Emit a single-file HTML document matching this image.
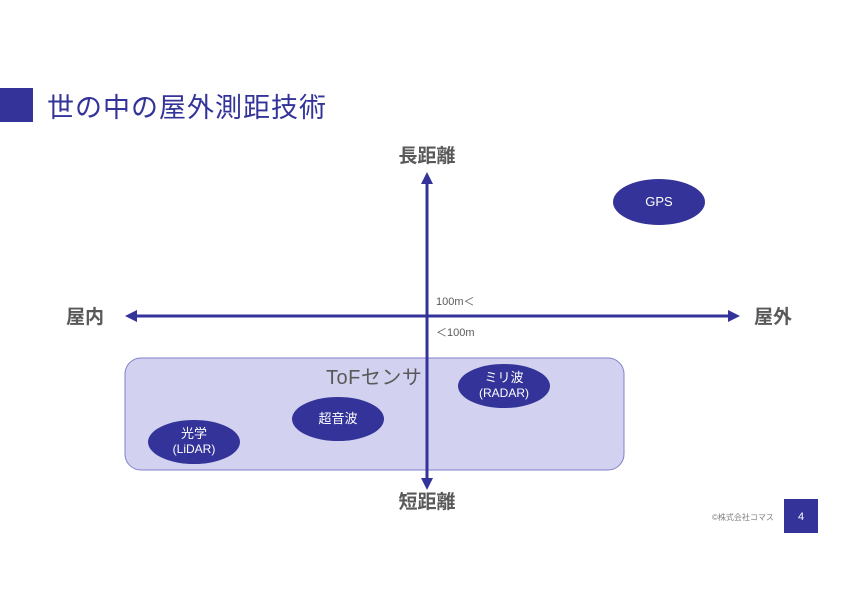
<!DOCTYPE html>
<html><head><meta charset="utf-8"><style>
html,body{margin:0;padding:0;background:#fff;}
svg{display:block;font-family:"Liberation Sans","Noto Sans CJK JP",sans-serif;}
</style></head><body>
<svg width="842" height="595" viewBox="0 0 842 595" xmlns="http://www.w3.org/2000/svg">
<rect x="0" y="88" width="33" height="34" fill="#333399"/>
<text x="47" y="117" font-size="27" letter-spacing="1" fill="#333399">世の中の屋外測距技術</text>
<rect x="125" y="358" width="499" height="112" rx="16" fill="#d2d2f0" stroke="#8080cc" stroke-width="1"/>
<text x="326" y="384" font-size="20" letter-spacing="0.5" fill="#595959">ToFセンサ</text>
<line x1="137" y1="316" x2="728" y2="316" stroke="#333399" stroke-width="3"/>
<polygon points="125,316 137,310 137,322" fill="#333399"/>
<polygon points="740,316 728,310 728,322" fill="#333399"/>
<line x1="427" y1="184" x2="427" y2="478" stroke="#333399" stroke-width="3"/>
<polygon points="427,172 421,184 433,184" fill="#333399"/>
<polygon points="427,490 421,478 433,478" fill="#333399"/>
<text x="427" y="162" font-size="19" font-weight="bold" fill="#595959" text-anchor="middle">長距離</text>
<text x="427" y="508" font-size="19" font-weight="bold" fill="#595959" text-anchor="middle">短距離</text>
<text x="66" y="323" font-size="19" font-weight="bold" fill="#595959">屋内</text>
<text x="754" y="323" font-size="19" font-weight="bold" fill="#595959">屋外</text>
<text x="436" y="305" font-size="11" fill="#595959">100m＜</text>
<text x="436" y="336" font-size="11" fill="#595959">＜100m</text>
<ellipse cx="659" cy="202" rx="46" ry="23" fill="#333399"/>
<text x="659" y="206" font-size="13" fill="#fff" text-anchor="middle">GPS</text>
<ellipse cx="504" cy="386" rx="46" ry="22" fill="#333399"/>
<text x="504" y="382" font-size="13" fill="#fff" text-anchor="middle">ミリ波</text>
<text x="504" y="397" font-size="12" fill="#fff" text-anchor="middle">(RADAR)</text>
<ellipse cx="338" cy="419" rx="46" ry="22" fill="#333399"/>
<text x="338" y="423" font-size="13" fill="#fff" text-anchor="middle">超音波</text>
<ellipse cx="194" cy="442" rx="46" ry="22" fill="#333399"/>
<text x="194" y="438" font-size="13" fill="#fff" text-anchor="middle">光学</text>
<text x="194" y="453" font-size="12" fill="#fff" text-anchor="middle">(LiDAR)</text>
<text x="712" y="520" font-size="8" fill="#808080">©株式会社コマス</text>
<rect x="784" y="499" width="34" height="34" fill="#333399"/>
<text x="801" y="520" font-size="11" fill="#fff" text-anchor="middle">4</text>
</svg>
</body></html>
